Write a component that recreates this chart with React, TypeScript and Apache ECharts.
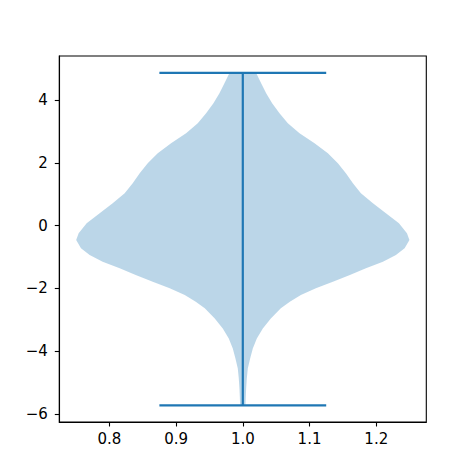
import React, { useEffect, useRef } from 'react';
import * as echarts from 'echarts';

// Violin outline: value (y) and half-width (in x data units), from bottom to top
const violinValues = [
  -5.73, -5.45, -5.19, -4.871, -4.552, -4.232, -3.913, -3.594, -3.275, -2.956, -2.636,
  -2.426, -2.212, -1.998, -1.787, -1.574, -1.36, -1.149, -0.935, -0.721, -0.456, -0.243,
  0.077, 0.396, 0.715, 1.034, 1.353, 1.672, 1.992, 2.311, 2.63, 2.949, 3.268, 3.588,
  3.907, 4.226, 4.545, 4.87,
];
const violinHalfWidths = [
  0.004, 0.0045, 0.005, 0.006, 0.0075, 0.011, 0.015, 0.021, 0.03, 0.042, 0.057,
  0.0705, 0.087, 0.1095, 0.135, 0.1605, 0.1845, 0.21, 0.2295, 0.2425, 0.2497, 0.246,
  0.234, 0.2145, 0.195, 0.177, 0.165, 0.1545, 0.1425, 0.1275, 0.1075, 0.085, 0.0675, 0.055,
  0.044, 0.035, 0.0275, 0.02,
];
const violinPosition = 1.0;
const dataMin = -5.73;
const dataMax = 4.87;
const capHalfWidth = 0.125;
const xTicks = [0.8, 0.9, 1.0, 1.1, 1.2];
const yTicks = [-6, -4, -2, 0, 2, 4];

const BLUE = '#1f77b4';

export default function App() {
  const ref = useRef<HTMLDivElement>(null);
  useEffect(() => {
    const chart = echarts.init(ref.current!, null, { renderer: 'svg' });
    const axisCommon = {
      type: 'value' as const,
      splitLine: { show: false },
      axisLine: { show: true, onZero: false, lineStyle: { color: '#000', width: 1.1 } },
    };
    chart.setOption({
      animation: false,
      grid: {
        left: 59.3,
        right: 474 - 426.3,
        top: 56,
        bottom: 474 - 422,
        show: true,
        borderColor: '#000',
        borderWidth: 1.1,
      },
      xAxis: {
        ...axisCommon,
        min: 0.725,
        max: 1.275,
        axisTick: { show: true, length: 4.5, customValues: xTicks, lineStyle: { color: '#000', width: 1.1 } },
        axisLabel: {
          customValues: xTicks,
          formatter: (v: number) => v.toFixed(1),
          color: '#000',
          fontSize: 15,
          fontFamily: 'DejaVu Sans',
          margin: 9,
        },
      },
      yAxis: {
        ...axisCommon,
        min: -6.26,
        max: 5.41,
        axisTick: { show: true, length: 4.5, customValues: yTicks, lineStyle: { color: '#000', width: 1.1 } },
        axisLabel: {
          customValues: yTicks,
          formatter: (v: number) => (v < 0 ? '\u2212' + Math.abs(v) : String(v)),
          color: '#000',
          fontSize: 15,
          fontFamily: 'DejaVu Sans',
          margin: 11.5,
        },
      },
      series: [
        {
          type: 'custom',
          data: [[violinPosition, 0]],
          clip: true,
          silent: true,
          renderItem: (params: any, api: any) => {
            const pts: number[][] = [];
            for (let i = 0; i < violinValues.length; i++) {
              pts.push(api.coord([violinPosition + violinHalfWidths[i], violinValues[i]]));
            }
            for (let i = violinValues.length - 1; i >= 0; i--) {
              pts.push(api.coord([violinPosition - violinHalfWidths[i], violinValues[i]]));
            }
            return {
              type: 'polygon',
              shape: { points: pts },
              style: { fill: 'rgba(31,119,180,0.3)', stroke: 'none' },
            };
          },
          z: 1,
        },
        {
          type: 'line',
          data: [[violinPosition - capHalfWidth, dataMax], [violinPosition + capHalfWidth, dataMax]],
          symbol: 'none',
          lineStyle: { color: BLUE, width: 2.2 },
          silent: true,
          z: 3,
        },
        {
          type: 'line',
          data: [[violinPosition - capHalfWidth, dataMin], [violinPosition + capHalfWidth, dataMin]],
          symbol: 'none',
          lineStyle: { color: BLUE, width: 2.2 },
          silent: true,
          z: 3,
        },
        {
          type: 'line',
          data: [[violinPosition, dataMin], [violinPosition, dataMax]],
          symbol: 'none',
          lineStyle: { color: BLUE, width: 2.2 },
          silent: true,
          z: 3,
        },
      ],
    });
    return () => chart.dispose();
  }, []);
  return (
    <div
      ref={ref}
      style={{ position: 'fixed', left: 0, top: 0, width: 474, height: 474, background: '#fff' }}
    />
  );
}
